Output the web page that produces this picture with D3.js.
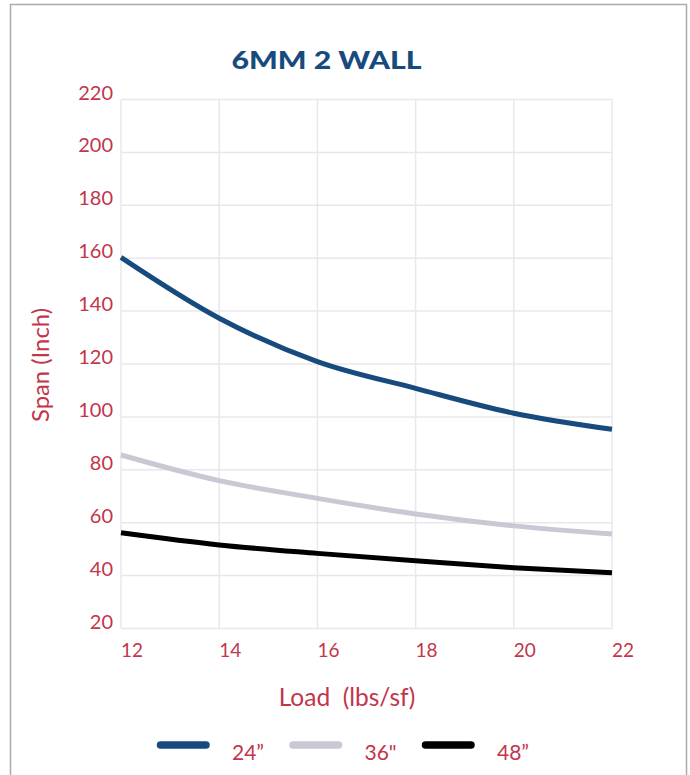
<!DOCTYPE html>
<html>
<head>
<meta charset="utf-8">
<script src="https://cdn.jsdelivr.net/npm/d3@7"></script>
<style>
  body { margin: 0; background: #fff; }
  svg { display: block; }
</style>
</head>
<body>
<script>
// data
const loads = [12, 14, 16, 18, 20, 22];
const span24 = [160.3, 137.3, 120.9, 110.8, 101.4, 95.3];
const span36 = [85.6, 75.9, 69.2, 63.3, 58.8, 55.7];
const span48 = [56.2, 51.6, 48.4, 45.6, 43.0, 41.1];
const seriesNames = ["24\u201D", "36\"", "48\u201D"];
const seriesColors = ["#174b7e", "#c9c8d4", "#000000"];
const yTicks = [20, 40, 60, 80, 100, 120, 140, 160, 180, 200, 220];
const xTicks = [12, 14, 16, 18, 20, 22];

const series = [span24, span36, span48].map((vals, i) => ({
  name: seriesNames[i],
  color: seriesColors[i],
  values: loads.map((l, j) => ({load: l, span: vals[j]}))
}));

width = 690
height = 775
margin = ({top: 99.5, right: 78, bottom: 146.5, left: 121})
red = "#c3354b"
font = "Lato, 'Open Sans', sans-serif"

x = d3.scaleLinear()
  .domain([12, 22])
  .range([margin.left, width - margin.right])

y = d3.scaleLinear()
  .domain([20, 220])
  .range([height - margin.bottom, margin.top])

const svg = d3.select("body").append("svg")
  .attr("width", width)
  .attr("height", height)
  .attr("viewBox", [0, 0, width, height]);

// outer frame
svg.append("rect")
  .attr("x", 10.5).attr("y", 4.5)
  .attr("width", 676).attr("height", 800)
  .attr("fill", "none")
  .attr("stroke", "#ababab")
  .attr("stroke-width", 1.5);

// title
svg.append("text")
  .attr("x", 326.5).attr("y", 68.5)
  .attr("text-anchor", "middle")
  .attr("font-family", "Lato, 'Liberation Sans', sans-serif")
  .attr("font-weight", 900)
  .attr("font-size", 25)
  .attr("textLength", 190)
  .attr("lengthAdjust", "spacingAndGlyphs")
  .attr("fill", "#174b7e")
  .text("6MM 2 WALL");

// grid
const grid = svg.append("g")
  .attr("stroke", "#e8e8ec")
  .attr("stroke-width", 1.5);

grid.selectAll(".h")
  .data(yTicks)
  .join("line")
  .attr("x1", x(12)).attr("x2", x(22))
  .attr("y1", d => y(d)).attr("y2", d => y(d));

grid.selectAll(".v")
  .data(xTicks)
  .join("line")
  .attr("x1", d => x(d)).attr("x2", d => x(d))
  .attr("y1", y(20)).attr("y2", y(220));

// y axis labels
svg.append("g")
  .attr("font-family", font)
  .attr("font-size", 20)
  .attr("fill", red)
  .attr("text-anchor", "end")
  .selectAll("text")
  .data(yTicks)
  .join("text")
  .attr("x", 113)
  .attr("y", d => y(d))
  .text(d => d);

// x axis labels
svg.append("g")
  .attr("font-family", font)
  .attr("font-size", 19)
  .attr("fill", red)
  .attr("text-anchor", "start")
  .selectAll("text")
  .data(xTicks)
  .join("text")
  .attr("x", d => x(d))
  .attr("y", 657)
  .text(d => d);

// axis titles
svg.append("text")
  .attr("x", 347).attr("y", 706)
  .attr("text-anchor", "middle")
  .attr("font-family", font)
  .attr("font-size", 24.5)
  .attr("fill", red)
  .attr("xml:space", "preserve")
  .text("Load  (lbs/sf)");

svg.append("text")
  .attr("transform", "translate(49,365) rotate(-90)")
  .attr("text-anchor", "middle")
  .attr("font-family", font)
  .attr("font-size", 22.5)
  .attr("textLength", 114)
  .attr("lengthAdjust", "spacingAndGlyphs")
  .attr("fill", red)
  .text("Span (Inch)");

// lines
const line = d3.line()
  .x(d => x(d.load))
  .y(d => y(d.span))
  .curve(d3.curveMonotoneX);

svg.append("g")
  .attr("fill", "none")
  .attr("stroke-width", 5)
  .selectAll("path")
  .data(series)
  .join("path")
  .attr("stroke", d => d.color)
  .attr("d", d => line(d.values));

// legend
const legendX = [157, 289.5, 422];
const legend = svg.append("g")
  .selectAll("g")
  .data(series)
  .join("g")
  .attr("transform", (d, i) => `translate(${legendX[i]},745)`);

legend.append("line")
  .attr("x1", 3.5).attr("x2", 49)
  .attr("stroke", d => d.color)
  .attr("stroke-width", 7.5)
  .attr("stroke-linecap", "round");

legend.append("text")
  .attr("x", 75)
  .attr("y", 14.5)
  .attr("font-family", font)
  .attr("font-size", 21)
  .attr("fill", red)
  .text(d => d.name);
</script>
</body>
</html>
